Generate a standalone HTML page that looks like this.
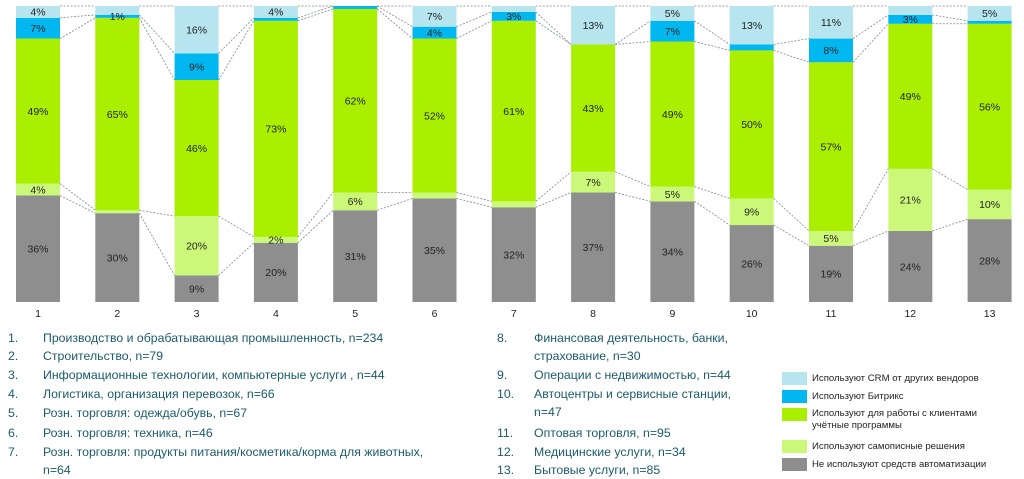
<!DOCTYPE html>
<html><head><meta charset="utf-8">
<style>
body{margin:0;width:1024px;height:477px;background:#fff;overflow:hidden;font-family:"Liberation Sans","Noto Sans CJK SC",sans-serif;position:relative}
.li{position:absolute;font-size:12.3px;color:#1b5b6b;white-space:nowrap;line-height:18px}
.li .n{position:absolute;left:0}
.lg{position:absolute;font-size:9.6px;color:#222;line-height:12px;white-space:nowrap}
.sw{position:absolute;width:25px;height:13px}
</style></head><body>
<svg id="chart" width="1024" height="325" style="position:absolute;left:0;top:0"></svg>

<div>
<div class="li" style="left:8px;top:329px"><span class="n">1.</span><span style="margin-left:35px">Производство и обрабатывающая промышленность, n=234</span></div>
<div class="li" style="left:8px;top:347px"><span class="n">2.</span><span style="margin-left:35px">Строительство, n=79</span></div>
<div class="li" style="left:8px;top:366px"><span class="n">3.</span><span style="margin-left:35px">Информационные технологии, компьютерные услуги , n=44</span></div>
<div class="li" style="left:8px;top:385px"><span class="n">4.</span><span style="margin-left:35px">Логистика, организация перевозок, n=66</span></div>
<div class="li" style="left:8px;top:404px"><span class="n">5.</span><span style="margin-left:35px">Розн. торговля: одежда/обувь, n=67</span></div>
<div class="li" style="left:8px;top:424px"><span class="n">6.</span><span style="margin-left:35px">Розн. торговля: техника, n=46</span></div>
<div class="li" style="left:8px;top:443px"><span class="n">7.</span><span style="margin-left:35px">Розн. торговля: продукты питания/косметика/корма для животных,</span></div>
<div class="li" style="left:43px;top:461px">n=64</div>

<div class="li" style="left:497px;top:329px"><span class="n">8.</span><span style="margin-left:37px">Финансовая деятельность, банки,</span></div>
<div class="li" style="left:534px;top:347px">страхование, n=30</div>
<div class="li" style="left:497px;top:366px"><span class="n">9.</span><span style="margin-left:37px">Операции с недвижимостью, n=44</span></div>
<div class="li" style="left:497px;top:385px"><span class="n">10.</span><span style="margin-left:37px">Автоцентры и сервисные станции,</span></div>
<div class="li" style="left:534px;top:403px">n=47</div>
<div class="li" style="left:497px;top:424px"><span class="n">11.</span><span style="margin-left:37px">Оптовая торговля, n=95</span></div>
<div class="li" style="left:497px;top:443px"><span class="n">12.</span><span style="margin-left:37px">Медицинские услуги, n=34</span></div>
<div class="li" style="left:497px;top:461px"><span class="n">13.</span><span style="margin-left:37px">Бытовые услуги, n=85</span></div>
</div>

<div>
<div class="sw" style="left:782px;top:372px;background:#b6e5f0"></div>
<div class="lg" style="left:812px;top:373px">Используют CRM от других вендоров</div>
<div class="sw" style="left:782px;top:390px;background:#00b8ef"></div>
<div class="lg" style="left:812px;top:391px">Используют Битрикс</div>
<div class="sw" style="left:782px;top:408px;background:#aaee00"></div>
<div class="lg" style="left:812px;top:408px">Используют для работы с клиентами<br>учётные программы</div>
<div class="sw" style="left:782px;top:440px;background:#ccf87a"></div>
<div class="lg" style="left:812px;top:441px">Используют самописные решения</div>
<div class="sw" style="left:782px;top:458px;background:#8e8e8e"></div>
<div class="lg" style="left:812px;top:459px">Не используют средств автоматизации</div>
</div>

<script>
const categories = ["1","2","3","4","5","6","7","8","9","10","11","12","13"];
const noneVals     = [36,30,9,20,31,35,32,37,34,26,19,24,28];
const selfVals     = [4,1,20,2,6,2,2,7,5,9,5,21,10];
const accountVals  = [49,65,46,73,62,52,61,43,49,50,57,49,56];
const bitrixVals   = [7,1,9,1,1,4,3,0,7,2,8,3,1];
const crmVals      = [4,3,16,4,0,7,2,13,5,13,11,3,5];

const series = [
  {name:"none", vals:noneVals, color:"#8e8e8e"},
  {name:"selfmade", vals:selfVals, color:"#ccf87a"},
  {name:"accounting", vals:accountVals, color:"#aaee00"},
  {name:"bitrix", vals:bitrixVals, color:"#00b8ef"},
  {name:"crm", vals:crmVals, color:"#b6e5f0"}
];
const svg = document.getElementById('chart');
const NS = "http://www.w3.org/2000/svg";
const top0 = 6, bot0 = 302, x0 = 38, step = 79.3, bw = 44;
function xc(i){return x0 + i*step;}
function yv(p){return bot0 - p/100*(bot0-top0);}
function mk(tag, attrs){const e=document.createElementNS(NS,tag);for(const k in attrs)e.setAttribute(k,attrs[k]);svg.appendChild(e);return e;}

const cum = categories.map((c,i)=>{let s=0;const arr=[0];series.forEach(se=>{s+=se.vals[i];arr.push(s);});const tot=s;return arr.map(v=>v/tot*100);});

categories.forEach((c,i)=>{
  series.forEach((se,k)=>{
    const y1=yv(cum[i][k+1]), y0=yv(cum[i][k]);
    const r=mk('rect',{x:xc(i)-bw/2,y:y1,width:bw,height:Math.max(0,y0-y1),fill:se.color});
    
    
  });
});
for(let i=0;i<categories.length-1;i++){
  for(let k=1;k<=series.length;k++){
    const l=mk('line',{x1:xc(i)+bw/2,y1:yv(cum[i][k]),x2:xc(i+1)-bw/2,y2:yv(cum[i+1][k]),stroke:"#7a8a90","stroke-width":0.8,"stroke-dasharray":"2,1.5"});
    
    
  }
}
const extraLabels = {"1-3":1,"6-3":1,"11-3":1,"3-1":1};
categories.forEach((c,i)=>{
  series.forEach((se,k)=>{
    const v=se.vals[i];
    if(v>=4 || extraLabels[i+"-"+k]){
      const ym=(yv(cum[i][k])+yv(cum[i][k+1]))/2;
      const t=mk('text',{x:xc(i),y:ym+3.8,"text-anchor":"middle","font-size":"10.5","fill":"#222","font-family":"Liberation Sans, sans-serif"});
      t.textContent=v+"%";
      
      
    }
  });
  const t=mk('text',{x:xc(i),y:317,"text-anchor":"middle","font-size":"10.5","fill":"#222","font-family":"Liberation Sans, sans-serif"});
  t.textContent=c;
  
  
});
</script>
</body></html>
